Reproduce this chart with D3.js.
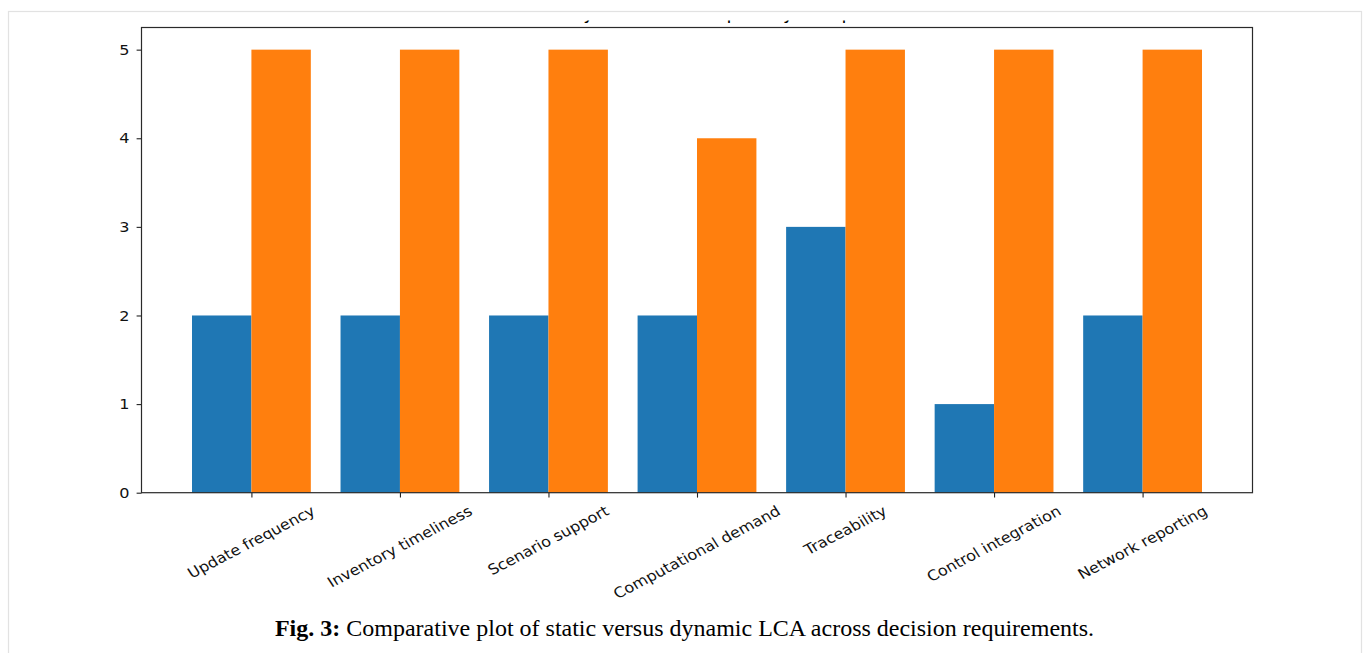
<!DOCTYPE html>
<html>
<head>
<meta charset="utf-8">
<script src="https://cdn.jsdelivr.net/npm/d3@7"></script>
<style>
  body { margin: 0; background: #ffffff; }
  svg { display: block; }
</style>
</head>
<body>
<svg id="chart" width="1365" height="653"></svg>
<script>
// data
var categories = ["Update frequency", "Inventory timeliness", "Scenario support",
    "Computational demand", "Traceability", "Control integration", "Network reporting"];
var static_values = [2, 2, 2, 2, 3, 1, 2];
var dynamic_values = [5, 5, 5, 4, 5, 5, 5];
var y_ticks = [0, 1, 2, 3, 4, 5];
var title_text = "Static vs Dynamic LCA: Capability Comparison";
var caption_bold = "Fig. 3:";
var caption_text = " Comparative plot of static versus dynamic LCA across decision requirements.";

var svg = d3.select("#chart");

// the figure image is a bit wider than tall in the page, so text is stretched sideways
var stretch = 1.11;

// light page frame around the figure
svg.append("rect")
    .attr("x", 8.5)
    .attr("y", 11.5)
    .attr("width", 1353)
    .attr("height", 700)
    .attr("fill", "none")
    .attr("stroke", "#e2e2e2")
    .attr("stroke-width", 1.2);

var plot = {left: 141.5, right: 1252.5, top: 27.5, bottom: 492.7};

// bar offsets like matplotlib: width 0.4, at i-0.2 and i+0.2
var x = d3.scaleLinear().domain([-0.74, 6.74]).range([plot.left, plot.right]);
var y = d3.scaleLinear().domain([0, 5.25]).range([plot.bottom, plot.top]);
var bar_w = x(0.4) - x(0);

// title, only the bottom of it is left after the crop
svg.append("clipPath").attr("id", "crop")
    .append("rect").attr("x", 0).attr("y", 20.5).attr("width", 1365).attr("height", 700);

var title_x = (plot.left + plot.right) / 2;
svg.append("g")
    .attr("clip-path", "url(#crop)")
    .append("text")
        .attr("transform", "translate(" + title_x + ",18.8) scale(1.05,1)")
        .attr("text-anchor", "middle")
        .attr("font-family", "DejaVu Sans")
        .attr("font-size", "17.4px")
        .attr("fill", "#000")
        .text(title_text);

var g = svg.append("g");

g.selectAll(".bar-static")
    .data(static_values)
    .enter()
    .append("rect")
        .attr("class", "bar-static")
        .attr("x", function(d, i) { return x(i - 0.4); })
        .attr("y", function(d) { return y(d); })
        .attr("width", bar_w)
        .attr("height", function(d) { return y(0) - y(d); })
        .attr("fill", "#1f77b4");

g.selectAll(".bar-dynamic")
    .data(dynamic_values)
    .enter()
    .append("rect")
        .attr("class", "bar-dynamic")
        .attr("x", function(d, i) { return x(i); })
        .attr("y", function(d) { return y(d); })
        .attr("width", bar_w)
        .attr("height", function(d) { return y(0) - y(d); })
        .attr("fill", "#ff7f0e");

// y axis
var y_axis = g.append("g")
    .attr("transform", "translate(" + plot.left + ",0)")
    .call(d3.axisLeft(y).tickValues(y_ticks).tickSize(4.9).tickPadding(6).tickFormat(d3.format("d")));
y_axis.select(".domain").remove();
y_axis.selectAll("line").attr("stroke", "#222").attr("stroke-width", 1.1);
y_axis.selectAll("text")
    .attr("transform", "scale(" + stretch + ",1)")
    .attr("font-family", "DejaVu Sans")
    .attr("font-size", "14.5px")
    .attr("fill", "#111");

// x axis ticks at group centres
var x_axis = g.append("g")
    .attr("transform", "translate(0," + plot.bottom + ")")
    .call(d3.axisBottom(x).tickValues(d3.range(categories.length)).tickSize(4.9).tickFormat(""));
x_axis.select(".domain").remove();
x_axis.selectAll("line").attr("stroke", "#222").attr("stroke-width", 1.1);

// rotated labels, bounding box centred under the tick (matplotlib rotation=30)
var label_top = plot.bottom + 4.9 + 4.9;
var labels = g.selectAll(".xlabel")
    .data(categories)
    .enter()
    .append("text")
        .attr("class", "xlabel")
        .attr("font-family", "DejaVu Sans")
        .attr("font-size", "14.5px")
        .attr("fill", "#111")
        .attr("text-anchor", "middle")
        .attr("dominant-baseline", "central")
        .text(function(d) { return d; });

labels.each(function(d, i) {
    var w = this.getComputedTextLength();
    var h = 14.5 * 1.17;
    var box_h = w * Math.sin(Math.PI / 6) + h * Math.cos(Math.PI / 6);
    var cx = x(i);
    var cy = label_top + box_h / 2;
    d3.select(this)
        .attr("transform", "translate(" + cx + "," + cy + ") scale(" + stretch + ",1) rotate(-30)");
});

// axes frame
g.append("rect")
    .attr("x", plot.left)
    .attr("y", plot.top)
    .attr("width", plot.right - plot.left)
    .attr("height", plot.bottom - plot.top)
    .attr("fill", "none")
    .attr("stroke", "#2a2a2a")
    .attr("stroke-width", 1.2);

// caption under the figure
var caption = svg.append("text")
    .attr("x", 684.5)
    .attr("y", 636)
    .attr("text-anchor", "middle")
    .attr("font-family", "Liberation Serif")
    .attr("font-size", "24px")
    .attr("fill", "#000");
caption.append("tspan").attr("font-weight", "bold").text(caption_bold);
caption.append("tspan").text(caption_text);
</script>
</body>
</html>
